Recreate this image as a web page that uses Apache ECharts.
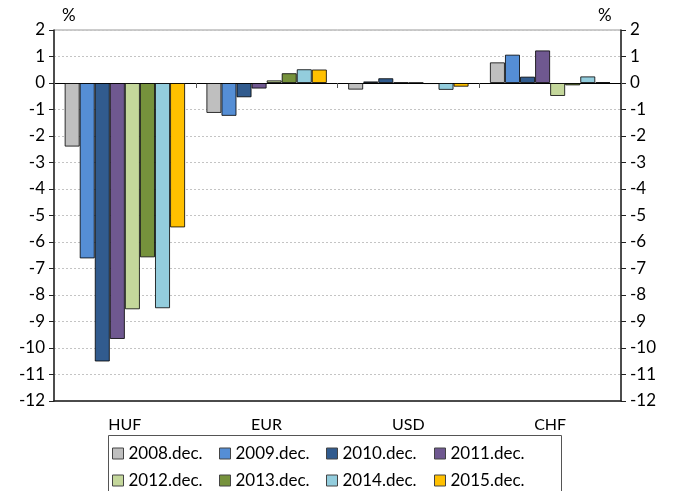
<!DOCTYPE html>
<html>
<head>
<meta charset="utf-8">
<script src="https://cdn.jsdelivr.net/npm/echarts@6/dist/echarts.min.js"></script>
<style>
  html, body { margin: 0; padding: 0; background: #fff; }
  #chart { width: 676px; height: 491px; }
</style>
</head>
<body>
<div id="chart"></div>
<script>
const currencies = ['HUF', 'EUR', 'USD', 'CHF']
const years = ['2008.dec.', '2009.dec.', '2010.dec.', '2011.dec.', '2012.dec.', '2013.dec.', '2014.dec.', '2015.dec.']
const colors = ['#BFBFBF', '#558ED5', '#315B8E', '#6F5890', '#C4D79B', '#76923C', '#93CDDD', '#FFC000']

// values per year: HUF, EUR, USD, CHF (%)
const y2008 = [-2.4, -1.13, -0.25, 0.78]
const y2009 = [-6.62, -1.24, 0.06, 1.07]
const y2010 = [-10.51, -0.54, 0.18, 0.24]
const y2011 = [-9.66, -0.21, 0.02, 1.23]
const y2012 = [-8.54, 0.1, 0.01, -0.49]
const y2013 = [-6.58, 0.37, -0.04, -0.09]
const y2014 = [-8.5, 0.52, -0.26, 0.25]
const y2015 = [-5.45, 0.51, -0.14, 0.03]
const values = [y2008, y2009, y2010, y2011, y2012, y2013, y2014, y2015]

const font = 'Lato, "Open Sans", sans-serif'
const chart = echarts.init(document.getElementById('chart'))

const series = years.map((name, i) => ({
	type: 'bar',
	name: name,
	data: values[i],
	barGap: '0%',
	barCategoryGap: '15%',
	itemStyle: {
		color: colors[i],
		borderColor: 'rgba(0,0,0,0.8)',
		borderWidth: 1
	}
}))

// one legend per item so the 4x2 layout sits where the reference has it
const legendLeft = [107, 214, 321, 429]
const legendTop = [440, 467]
const legends = years.map((name, i) => ({
	data: [name],
	left: legendLeft[i % 4],
	top: legendTop[Math.floor(i / 4)],
	itemWidth: 11,
	itemHeight: 11,
	icon: 'rect',
	textStyle: { fontSize: 17, fontFamily: font, color: '#000' },
	itemStyle: { borderColor: '#444', borderWidth: 1 }
}))

const yAxisBase = {
	type: 'value',
	min: -12,
	max: 2,
	interval: 1,
	axisLine: { show: true, lineStyle: { color: '#222', width: 1.5 } },
	axisTick: { show: true, length: 5, lineStyle: { color: '#222' } },
	axisLabel: { fontSize: 17, fontFamily: font, color: '#000', margin: 9 }
}

chart.setOption({
	animation: false,
	grid: { left: 54, right: 55, top: 30, bottom: 90, show: true, borderColor: '#999', borderWidth: 1 },
	legend: legends,
	graphic: [
		{
			type: 'rect',
			shape: { x: 108.5, y: 435.5, width: 453, height: 60 },
			style: { fill: 'none', stroke: '#555', lineWidth: 1 }
		},
		{ type: 'text', left: 62, top: 7, style: { text: '%', fontSize: 17, fontFamily: font, fill: '#000' } },
		{ type: 'text', left: 598, top: 7, style: { text: '%', fontSize: 17, fontFamily: font, fill: '#000' } }
	],
	xAxis: [
		{
			type: 'category',
			data: currencies,
			position: 'bottom',
			axisLine: { show: true, onZero: false, lineStyle: { color: '#222', width: 1.5 } },
			axisTick: { show: false },
			axisLabel: { fontSize: 16, fontFamily: font, color: '#000', margin: 16 }
		},
		{
			type: 'category',
			data: currencies,
			position: 'bottom',
			axisLine: { onZero: true, lineStyle: { color: '#000', width: 1 } },
			axisTick: { show: true, length: 5, lineStyle: { color: '#555' } },
			axisLabel: { show: false }
		}
	],
	yAxis: [
		{
			...yAxisBase,
			position: 'left',
			splitLine: { show: true, lineStyle: { color: '#C4C4C4', type: [2, 2], width: 1 } }
		},
		{
			...yAxisBase,
			position: 'right',
			splitLine: { show: false }
		}
	],
	series: series
})
</script>
</body>
</html>
